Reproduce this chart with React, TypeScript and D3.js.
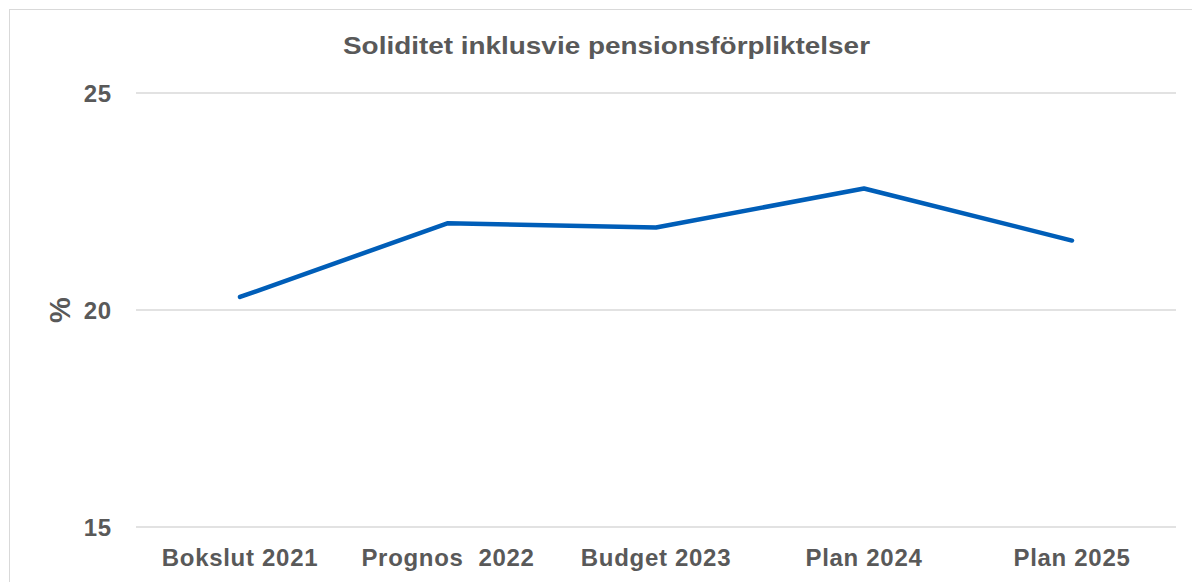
import React from "react";
import * as d3 from "d3";

const categories = ["Bokslut 2021", "Prognos  2022", "Budget 2023", "Plan 2024", "Plan 2025"];
const values = [20.3, 22.0, 21.9, 22.8, 21.6];
const yTicks = [15, 20, 25];
const title = "Soliditet inklusvie pensionsförpliktelser";
const yLabel = "%";

export default function App() {
  const W = 1192, H = 582;
  const left = 136, right = 1176, top = 93, bottom = 527;
  const x = d3.scaleBand<string>().domain(categories).range([left, right]);
  const y = d3.scaleLinear().domain([15, 25]).range([bottom, top]);
  const line = d3.line<number>()
    .x((_, i) => (x(categories[i]) as number) + x.bandwidth() / 2)
    .y((d) => y(d));
  const font = "'Liberation Sans', Arial, sans-serif";
  const gray = "#595959";
  return (
    <svg width={W} height={H} style={{ position: "absolute", left: 0, top: 0 }} fontFamily={font}>
      <rect x={0} y={0} width={W} height={H} fill="#fff" />
      <rect x={9.5} y={9.5} width={W + 20} height={H + 20} fill="none" stroke="#d9d9d9" strokeWidth={1} />
      <text x={606.5} y={54} textAnchor="middle" fontSize={24} fontWeight="bold" fill={gray} textLength={527} lengthAdjust="spacingAndGlyphs">{title}</text>
      {yTicks.map((t) => (
        <g key={t}>
          <line x1={left} x2={right} y1={y(t)} y2={y(t)} stroke="#d9d9d9" strokeWidth={1.5} />
          <text x={112} y={y(t)} dy="0.36em" textAnchor="end" fontSize={24} fontWeight="bold" fill={gray} letterSpacing={0.8}>{t}</text>
        </g>
      ))}
      <text transform={`translate(70,${y(20)}) rotate(-90)`} textAnchor="middle" fontSize={29} fontWeight="bold" fill={gray}>{yLabel}</text>
      {categories.map((c) => (
        <text key={c} x={(x(c) as number) + x.bandwidth() / 2} y={566} textAnchor="middle" fontSize={24} fontWeight="bold" fill={gray} letterSpacing={0.7} style={{ whiteSpace: "pre" }}>{c}</text>
      ))}
      <path d={line(values) || ""} fill="none" stroke="#005EB8" strokeWidth={4.5} strokeLinecap="round" strokeLinejoin="round" />
    </svg>
  );
}
